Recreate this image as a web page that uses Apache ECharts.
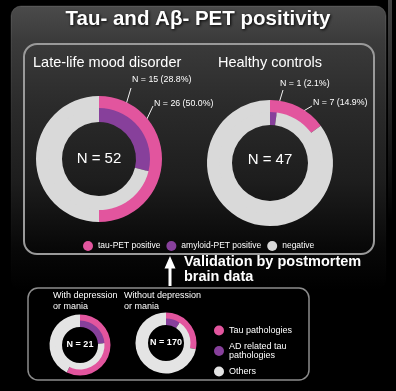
<!DOCTYPE html>
<html><head><meta charset="utf-8">
<script src="https://cdn.jsdelivr.net/npm/echarts@6/dist/echarts.min.js"></script>
<style>html,body{margin:0;padding:0;background:#000;}#c{width:396px;height:391px;}</style>
</head><body><div id="c"></div>
<script>
// ---------- data ----------
const petCategories = ['tau-PET positive', 'amyloid-PET positive', 'negative'];
const llmdTotal = 52;
const llmdTau = 26;
const llmdAmyloid = 15;
const hcTotal = 47;
const hcTau = 7;
const hcAmyloid = 1;
const pathCategories = ['Tau pathologies', 'AD related tau pathologies', 'Others'];
const depTotal = 21;
const depTau = 12;
const depAD = 5;
const noDepTotal = 170;
const noDepTau = 48;
const noDepAD = 16;

// ---------- styles ----------
const FONT = '"Liberation Sans", Arial, Helvetica, sans-serif';
const PINK = '#e2559e';
const PURPLE = '#87409b';
const GRAY = '#d9d9d9';
const GRAY2 = '#e4e4e4';

const chart = echarts.init(document.getElementById('c'), null, {renderer: 'canvas'});

function pct(v, t) { return 'N = ' + v + ' (' + (v / t * 100).toFixed(1) + '%)'; }

function annotLayout(c, spec) {
  return function (p) {
    if (p.dataIndex !== 0) return {};
    return {
      x: c[0] + spec.tx, y: c[1] + spec.ty, align: 'left', verticalAlign: 'middle',
      labelLinePoints: [[c[0] + spec.ax, c[1] + spec.ay], [c[0] + spec.ex, c[1] + spec.ey]]
    };
  };
}

function ring(center, radius, posName, posVal, negName, negVal, total, color, negColor, spec) {
  const s = {
    type: 'pie', center: center, radius: radius, startAngle: 90, clockwise: true,
    silent: true, animation: false, avoidLabelOverlap: false,
    emphasis: {disabled: true},
    itemStyle: {borderWidth: 0},
    data: [
      {name: posName, value: posVal, itemStyle: {color: color, borderWidth: 0},
        label: {show: !!spec, position: 'outside', formatter: pct(posVal, total),
          color: '#fff', fontSize: 8.8, fontFamily: FONT},
        labelLine: {show: !!spec, lineStyle: {color: '#f2f2f2', width: 1}}},
      {name: negName, value: negVal, itemStyle: {color: negColor, borderWidth: 0},
        label: {show: false}, labelLine: {show: false}}
    ]
  };
  if (spec) s.labelLayout = annotLayout(center, spec);
  return s;
}

const c1 = [99, 159], c2 = [270, 163];
const c3 = [80, 345], c4 = [166, 343];

// outer rings first (inner rings drawn on top and overlapping the seam)
const series = [
  ring(c1, [49, 63], petCategories[0], llmdTau, petCategories[2], llmdTotal - llmdTau, llmdTotal, PINK, GRAY,
    {ax: 46, ay: -36, ex: 54, ey: -53, tx: 55, ty: -55}),
  ring(c1, [37, 51], petCategories[1], llmdAmyloid, petCategories[2], llmdTotal - llmdAmyloid, llmdTotal, PURPLE, GRAY,
    {ax: 23, ay: -41, ex: 32, ey: -71, tx: 33, ty: -79}),
  ring(c2, [49, 63], petCategories[0], hcTau, petCategories[2], hcTotal - hcTau, hcTotal, PINK, GRAY,
    {ax: 25, ay: -47, ex: 42, ey: -57, tx: 43, ty: -60}),
  ring(c2, [38, 51], petCategories[1], hcAmyloid, petCategories[2], hcTotal - hcAmyloid, hcTotal, PURPLE, GRAY,
    {ax: 3, ay: -40, ex: 13, ey: -73, tx: 10, ty: -79}),
  ring(c3, [23, 30.5], pathCategories[0], depTau, pathCategories[2], depTotal - depTau, depTotal, PINK, GRAY2, null),
  ring(c3, [18, 24.5], pathCategories[1], depAD, pathCategories[2], depTotal - depAD, depTotal, PURPLE, GRAY2, null),
  ring(c4, [23, 30.5], pathCategories[0], noDepTau, pathCategories[2], noDepTotal - noDepTau, noDepTotal, PINK, GRAY2, null),
  ring(c4, [18, 24.5], pathCategories[1], noDepAD, pathCategories[2], noDepTotal - noDepAD, noDepTotal, PURPLE, GRAY2, null)
];

function txt(x, y, text, size, opts) {
  opts = opts || {};
  return {
    type: 'text', x: x, y: y, z: 20, silent: true,
    style: Object.assign({
      text: text, fill: '#fff', font: (opts.weight || 'normal') + ' ' + size + 'px ' + FONT,
      textAlign: opts.align || 'left', textVerticalAlign: 'middle'
    }, opts.style || {})
  };
}

const graphic = [
  {type: 'rect', z: 0, silent: true,
    shape: {x: 11, y: 6, width: 375, height: 284, r: 10},
    style: {fill: new echarts.graphic.LinearGradient(0, 0, 0, 1, [
      {offset: 0, color: '#4b4b4b'}, {offset: 0.12, color: '#3b3b3b'},
      {offset: 0.35, color: '#2b2b2b'}, {offset: 0.62, color: '#1d1d1d'},
      {offset: 0.85, color: '#080808'}, {offset: 1, color: '#000'}]),
      stroke: new echarts.graphic.LinearGradient(0, 0, 0, 1, [
      {offset: 0, color: 'rgba(255,255,255,0.14)'}, {offset: 0.5, color: 'rgba(255,255,255,0.03)'},
      {offset: 1, color: 'rgba(255,255,255,0)'}]), lineWidth: 1}},
  {type: 'rect', z: 0, silent: true,
    shape: {x: 388, y: 0, width: 4, height: 220},
    style: {fill: new echarts.graphic.LinearGradient(0, 0, 0, 1, [
      {offset: 0, color: '#444'}, {offset: 1, color: '#000'}])}},
  {type: 'rect', z: 1, silent: true,
    shape: {x: 24, y: 44, width: 350, height: 210, r: 13},
    style: {fill: 'none', stroke: '#9a9a9a', lineWidth: 2}},
  {type: 'rect', z: 1, silent: true,
    shape: {x: 28, y: 288, width: 281, height: 92, r: 10},
    style: {fill: 'none', stroke: '#8c8c8c', lineWidth: 1.5}},
  {type: 'polygon', z: 20, silent: true,
    shape: {points: [[170, 256], [164.5, 268.5], [168.5, 268.5], [168.5, 286], [171.5, 286], [171.5, 268.5], [175.5, 268.5]]},
    style: {fill: '#fff'}},
  txt(198, 19, 'Tau- and A\u03b2- PET positivity', 20.5, {weight: 'bold', align: 'center',
    style: {textShadowColor: 'rgba(0,0,0,0.95)', textShadowBlur: 3, textShadowOffsetX: 1, textShadowOffsetY: 1}}),
  txt(33, 63, 'Late-life mood disorder', 14.5),
  txt(218, 63, 'Healthy controls', 14.5),
  txt(c1[0], c1[1], 'N = ' + llmdTotal, 15, {align: 'center'}),
  txt(c2[0], c2[1] - 3, 'N = ' + hcTotal, 15, {align: 'center'}),
  txt(184, 262, 'Validation by postmortem', 14.5, {weight: 'bold'}),
  txt(184, 277, 'brain data', 14.5, {weight: 'bold'}),
  txt(53, 296, 'With depression', 9),
  txt(53, 307, 'or mania', 9),
  txt(124, 296, 'Without depression', 9),
  txt(124, 307, 'or mania', 9),
  txt(c3[0], c3[1], 'N = ' + depTotal, 9, {weight: 'bold', align: 'center'}),
  txt(c4[0], c4[1], 'N = ' + noDepTotal, 9, {weight: 'bold', align: 'center'})
];

chart.setOption({
  backgroundColor: '#000',
  animation: false,
  graphic: graphic,
  legend: [
    {data: petCategories, orient: 'horizontal', left: 78, top: 236, itemWidth: 10, itemHeight: 10,
      itemGap: 6, icon: 'circle', selectedMode: false,
      textStyle: {color: '#fff', fontSize: 8.5, fontFamily: FONT}},
    {data: pathCategories, orient: 'vertical', left: 209, top: 320.5, itemWidth: 10, itemHeight: 10,
      itemGap: 6, icon: 'circle', selectedMode: false,
      formatter: function (n) { return n === 'AD related tau pathologies' ? 'AD related tau\npathologies' : n; },
      textStyle: {color: '#fff', fontSize: 9, lineHeight: 9.5, fontFamily: FONT}}
  ],
  series: series
});
</script>
</body></html>
